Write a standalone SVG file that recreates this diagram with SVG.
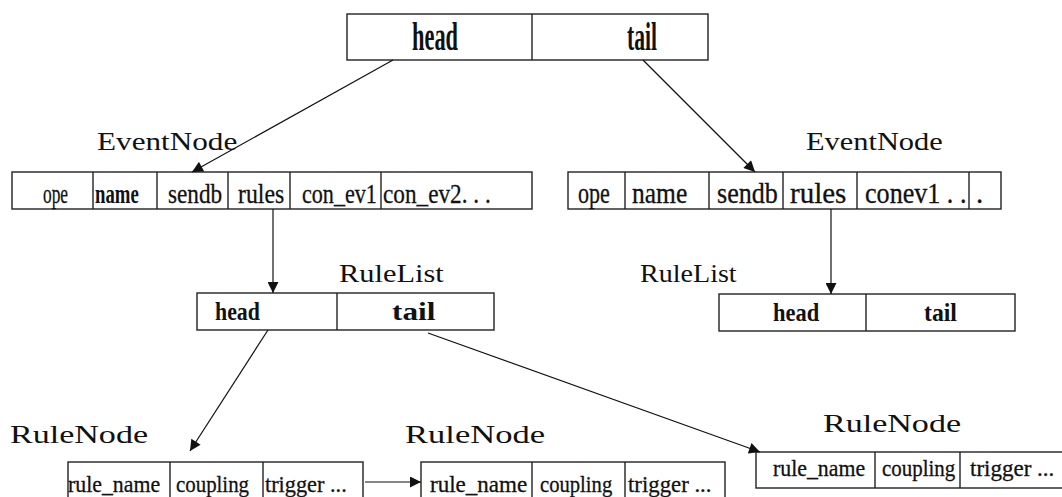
<svg xmlns="http://www.w3.org/2000/svg" width="1062" height="497" viewBox="0 0 1062 497">
  <defs>
    <marker id="arrow" viewBox="0 0 10 10" refX="10" refY="5" markerWidth="12" markerHeight="11" markerUnits="userSpaceOnUse" orient="auto">
      <path d="M0,0 L10,5 L0,10 z" fill="#111"/>
    </marker>
    <style>
      .box { fill: #fff; stroke: #222; stroke-width: 1.4; }
      .div { stroke: #222; stroke-width: 1.4; }
      .cell { font-family: "Liberation Serif", "DejaVu Serif", serif; fill: #111; stroke: #111; stroke-width: 0.3; }
      .bold { font-weight: bold; stroke-width: 0; }
      .label { font-family: "Liberation Serif", "DejaVu Serif", serif; font-size: 26px; fill: #111; }
      .conn { stroke: #111; stroke-width: 1.2; fill: none; marker-end: url(#arrow); }
    </style>
  </defs>

  <rect width="1062" height="497" fill="#fff"/>

  <!-- top list header -->
  <g id="list-header">
    <rect class="box" x="347" y="14" width="361" height="46"/>
    <line class="div" x1="532" y1="14" x2="532" y2="60"/>
    <text class="cell bold" font-size="40" transform="translate(412,50) scale(0.56,1)">head</text>
    <text class="cell bold" font-size="40" transform="translate(627,50) scale(0.54,1)">tail</text>
  </g>

  <!-- event nodes -->
  <g id="event-node-left">
    <text class="label" transform="translate(97,150) scale(1.2,1)">EventNode</text>
    <rect class="box" x="12" y="172" width="520" height="37"/>
    <line class="div" x1="93" y1="172" x2="93" y2="209"/>
    <line class="div" x1="157" y1="172" x2="157" y2="209"/>
    <line class="div" x1="228" y1="172" x2="228" y2="209"/>
    <line class="div" x1="290" y1="172" x2="290" y2="209"/>
    <line class="div" x1="381" y1="172" x2="381" y2="209"/>
    <g font-size="28">
      <text class="cell" transform="translate(43,203) scale(0.62,1)">ope</text>
      <text class="cell bold" transform="translate(95,203) scale(0.67,1)">name</text>
      <text class="cell" transform="translate(168,203) scale(0.83,1)">sendb</text>
      <text class="cell" transform="translate(238,203) scale(0.85,1)">rules</text>
      <text class="cell" transform="translate(302,203) scale(0.79,1)">con_ev1</text>
      <text class="cell" transform="translate(383,203) scale(0.83,1)">con_ev2. . .</text>
    </g>
  </g>

  <g id="event-node-right">
    <text class="label" transform="translate(806,150) scale(1.17,1)">EventNode</text>
    <rect class="box" x="568" y="172" width="433" height="37"/>
    <line class="div" x1="625" y1="172" x2="625" y2="209"/>
    <line class="div" x1="709" y1="172" x2="709" y2="209"/>
    <line class="div" x1="783" y1="172" x2="783" y2="209"/>
    <line class="div" x1="857" y1="172" x2="857" y2="209"/>
    <line class="div" x1="969" y1="172" x2="969" y2="209"/>
    <g font-size="29">
      <text class="cell" transform="translate(578,203) scale(0.76,1)">ope</text>
      <text class="cell" transform="translate(632,203) scale(0.88,1)">name</text>
      <text class="cell" transform="translate(717,203) scale(0.9,1)">sendb</text>
      <text class="cell" transform="translate(790,203)">rules</text>
      <text class="cell" transform="translate(865,203) scale(0.9,1)">conev1 . .</text>
      <text class="cell" transform="translate(976,203)">.</text>
    </g>
  </g>

  <!-- rule lists -->
  <g id="rule-list-left">
    <text class="label" transform="translate(339,282) scale(1.17,1)">RuleList</text>
    <rect class="box" x="197" y="293" width="297" height="37"/>
    <line class="div" x1="337" y1="293" x2="337" y2="330"/>
    <text class="cell bold" font-size="26" transform="translate(215,320) scale(0.84,1)">head</text>
    <text class="cell bold" font-size="26" transform="translate(392,320) scale(1.2,1)">tail</text>
  </g>

  <g id="rule-list-right">
    <text class="label" transform="translate(640,282) scale(1.08,1)">RuleList</text>
    <rect class="box" x="719" y="294" width="296" height="37"/>
    <line class="div" x1="866" y1="294" x2="866" y2="331"/>
    <text class="cell bold" font-size="25" transform="translate(773,321) scale(0.9,1)">head</text>
    <text class="cell bold" font-size="25" transform="translate(924,321) scale(0.95,1)">tail</text>
  </g>

  <!-- rule nodes -->
  <g id="rule-node-1">
    <text class="label" transform="translate(10,443) scale(1.31,1)">RuleNode</text>
    <rect class="box" x="68" y="462" width="295" height="50"/>
    <line class="div" x1="170" y1="462" x2="170" y2="497"/>
    <line class="div" x1="263" y1="462" x2="263" y2="497"/>
    <g font-size="24">
      <text class="cell" transform="translate(68,492) scale(0.91,1)">rule_name</text>
      <text class="cell" transform="translate(176,492) scale(0.87,1)">coupling</text>
      <text class="cell" transform="translate(265,492) scale(0.93,1)">trigger ...</text>
    </g>
  </g>

  <g id="rule-node-2">
    <text class="label" transform="translate(405,443) scale(1.33,1)">RuleNode</text>
    <rect class="box" x="421" y="462" width="304" height="50"/>
    <line class="div" x1="532" y1="462" x2="532" y2="497"/>
    <line class="div" x1="625" y1="462" x2="625" y2="497"/>
    <g font-size="24">
      <text class="cell" transform="translate(430,492) scale(0.96,1)">rule_name</text>
      <text class="cell" transform="translate(540,492) scale(0.86,1)">coupling</text>
      <text class="cell" transform="translate(628,492) scale(0.95,1)">trigger ...</text>
    </g>
  </g>

  <g id="rule-node-3">
    <text class="label" transform="translate(823,432) scale(1.31,1)">RuleNode</text>
    <rect class="box" x="756" y="452" width="320" height="36"/>
    <line class="div" x1="875" y1="452" x2="875" y2="488"/>
    <line class="div" x1="960" y1="452" x2="960" y2="488"/>
    <g font-size="23">
      <text class="cell" transform="translate(773,476) scale(0.95,1)">rule_name</text>
      <text class="cell" transform="translate(882,476) scale(0.91,1)">coupling</text>
      <text class="cell" transform="translate(970,476) scale(1.0,1)">trigger ...</text>
    </g>
  </g>

  <!-- pointers -->
  <g id="connectors">
    <line class="conn" x1="393" y1="60" x2="192" y2="172"/>
    <line class="conn" x1="643" y1="60" x2="755" y2="172"/>
    <line class="conn" x1="273" y1="209" x2="273" y2="293"/>
    <line class="conn" x1="831" y1="209" x2="831" y2="294"/>
    <line class="conn" x1="268" y1="330" x2="190" y2="451"/>
    <line class="conn" x1="428" y1="333" x2="760" y2="452"/>
    <line class="conn" x1="365" y1="482" x2="421" y2="482"/>
  </g>
</svg>
